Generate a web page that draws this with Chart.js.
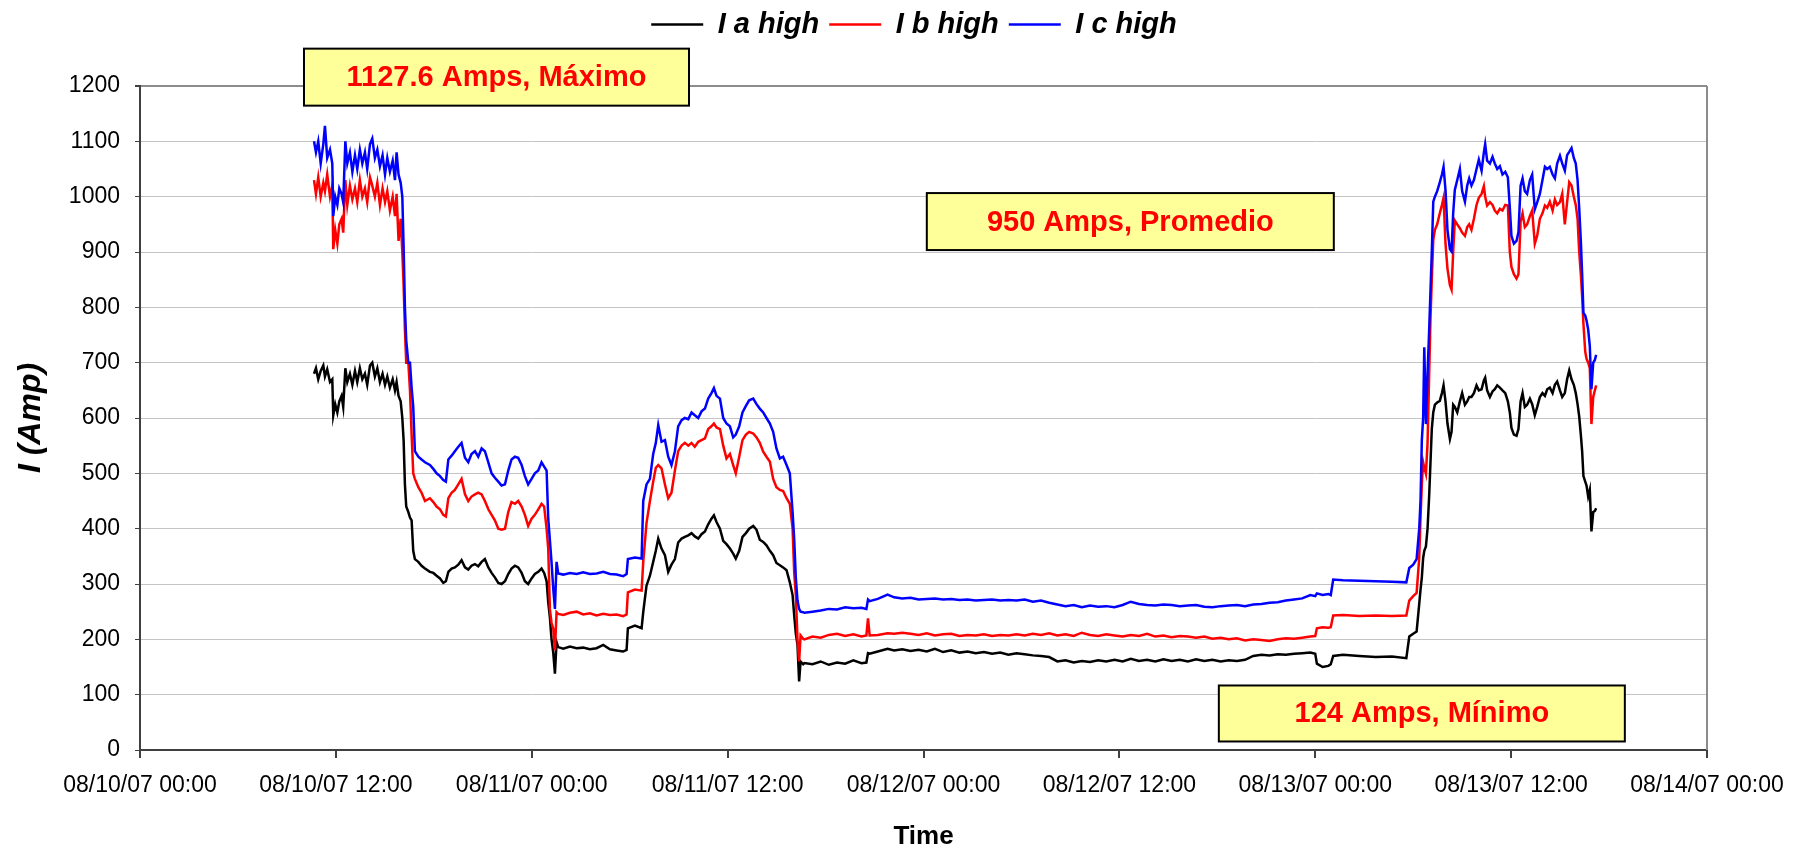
<!DOCTYPE html>
<html>
<head>
<meta charset="utf-8">
<title>I high - 08/10/07 a 08/14/07</title>
<script src="https://cdn.jsdelivr.net/npm/chart.js@4.4.1/dist/chart.umd.min.js"></script>
<style>
  html, body { margin: 0; padding: 0; background: #fff; }
  #wrap { width: 1803px; height: 850px; }
</style>
</head>
<body>
<div id="wrap"><canvas id="chart" width="1803" height="850"></canvas></div>
<script>
// Eje x en horas desde 08/10/07 00:00.

const tickLabels = [
  '08/10/07 00:00', '08/10/07 12:00', '08/11/07 00:00', '08/11/07 12:00', '08/12/07 00:00',
  '08/12/07 12:00', '08/13/07 00:00', '08/13/07 12:00', '08/14/07 00:00'
];

const seriesNames = ['I a high', 'I b high', 'I c high'];

const hours = [
  // primer día, carga alta
  10.66, 10.78, 10.92, 11.07, 11.23, 11.33, 11.47, 11.64, 11.78, 11.84,
  11.96, 12.09, 12.21, 12.35, 12.45, 12.58, 12.70, 12.86, 13.01, 13.17,
  13.31, 13.47, 13.62, 13.78, 13.92, 14.09, 14.23, 14.39, 14.54, 14.70,
  14.86, 15.01, 15.15, 15.31, 15.48, 15.62, 15.72, 15.84, 15.97, 16.07,
  16.15, 16.23, 16.31, 16.44, 16.54, 16.64, 16.74, 16.84,
  // tarde/noche
  17.05, 17.25, 17.46, 17.76, 17.97, 18.17, 18.38, 18.58, 18.74, 18.89,
  19.09, 19.29, 19.50, 19.70, 19.91, 20.11, 20.31, 20.52, 20.72, 20.93,
  21.13, 21.34, 21.54, 21.74, 21.95, 22.15, 22.36, 22.56, 22.76, 22.97,
  23.17, 23.38, 23.58, 23.78, 23.99, 24.19, 24.40, 24.60, 24.76,
  // madrugada 08/11
  24.91, 25.01, 25.11, 25.21, 25.32, 25.42, 25.52, 25.62, 25.93, 26.34,
  26.75, 27.15, 27.56, 27.97, 28.38, 28.79, 29.20, 29.60, 29.81,
  // 08/11 de día
  29.89, 30.32, 30.73, 30.83, 31.03, 31.24, 31.44, 31.60, 31.75, 31.95,
  32.16, 32.36, 32.56, 32.77, 32.97, 33.18, 33.38, 33.59, 33.79, 33.99,
  34.20, 34.40, 34.61, 34.81, 35.01, 35.16, 35.32, 35.53, 35.73, 35.93,
  36.14, 36.34, 36.50, 36.71, 36.91, 37.12, 37.32, 37.57, 37.77, 37.97,
  38.18, 38.38, 38.59, 38.79, 38.99, 39.20, 39.40, 39.61, 39.81, 39.98,
  40.08, 40.18, 40.28, 40.38, 40.47, 40.63,
  // fin de semana, carga baja
  40.7, 41.2, 41.7, 42.2, 42.7, 43.2, 43.7, 44.2, 44.5, 44.6,
  44.7, 45.2, 45.8, 46.2, 46.7, 47.2, 47.7, 48.2, 48.7, 49.2,
  49.7, 50.2, 50.7, 51.2, 51.7, 52.2, 52.7, 53.2, 53.7, 54.2,
  54.7, 55.2, 55.7, 56.2, 56.7, 57.2, 57.7, 58.2, 58.7, 59.2,
  59.7, 60.2, 60.7, 61.2, 61.7, 62.2, 62.7, 63.2, 63.7, 64.2,
  64.7, 65.2, 65.7, 66.2, 66.7, 67.2, 67.7, 68.2, 68.7, 69.2,
  69.7, 70.2, 70.7, 71.2, 71.7, 72.0, 72.1, 72.45, 72.8, 72.95,
  73.1, 73.7, 74.7, 75.7, 76.7, 77.58,
  // 08/13 arranque y carga alta
  77.76, 78.00, 78.21, 78.37, 78.45, 78.53, 78.61, 78.68, 78.78, 78.88,
  78.98, 79.06, 79.14, 79.23, 79.33, 79.47, 79.63, 79.76, 79.86, 79.98,
  80.10, 80.25, 80.35, 80.45, 80.55, 80.70, 80.86, 81.00, 81.17, 81.31,
  81.43, 81.57, 81.72, 81.88, 82.02, 82.19, 82.33, 82.41, 82.53, 82.70,
  82.86, 83.00, 83.15, 83.31, 83.47, 83.64, 83.80, 83.92, 84.02, 84.17,
  84.33, 84.45, 84.58, 84.70, 84.84, 84.98, 85.15, 85.29, 85.45, 85.60,
  85.76, 85.92, 86.07, 86.21, 86.37, 86.54, 86.68, 86.82, 86.99, 87.13,
  87.29, 87.43, 87.56, 87.70, 87.84, 87.96, 88.07, 88.17, 88.27, 88.35,
  88.43, 88.54, 88.62, 88.72, 88.82, 88.92, 89.03, 89.13, 89.21
];

const iaHigh = [
  680, 690, 670, 685, 695, 675, 688, 665, 670, 605,
  625, 610, 630, 640, 620, 690, 665, 680, 660, 685,
  665, 690, 670, 680, 660, 695, 700, 675, 690, 665,
  680, 660, 675, 655, 670, 650, 665, 640, 630, 600,
  560, 480, 440, 430, 420, 415, 360, 345,

  340, 333, 328, 322, 320, 315, 310, 302, 305, 322,
  328, 330, 335, 343, 330, 326, 333, 336, 332, 340,
  345, 330, 320, 312, 302, 300, 305, 318, 328, 333,
  330, 320, 305, 300, 310, 318, 322, 328, 320,

  305, 267, 240, 201, 175, 138, 195, 186, 183, 187,
  184, 185, 182, 184, 190, 182, 180, 178, 181,

  220, 225, 220, 249, 297, 315, 340, 360, 382, 364,
  352, 322, 335, 345, 375, 382, 385, 388, 392, 386,
  382, 390, 395, 408, 418, 424, 412, 400, 378, 372,
  364, 355, 346, 360, 385, 392, 400, 405, 398, 380,
  376, 370, 360, 352, 338, 334, 330, 325, 303, 280,
  243, 210, 190, 124, 160, 155,

  157, 155, 160, 154, 158, 156, 162, 157, 158, 175,
  174, 178, 183, 180, 182, 179, 181, 178, 183, 177,
  180, 176, 178, 175, 177, 174, 176, 172, 175, 173,
  171, 170, 168, 160, 162, 158, 161, 159, 162, 160,
  163, 160, 165, 161, 163, 160, 164, 161, 163, 160,
  164, 161, 163, 160, 162, 161, 163, 170, 172, 171,
  173, 172, 174, 175, 176, 174, 156, 150, 152, 155,
  170, 172, 170, 168, 169, 166,

  205, 210, 214, 264, 290, 312, 347, 360, 368, 400,
  460, 520, 580, 610, 624, 628, 631, 645, 659, 630,
  590, 562, 575, 624, 620, 610, 630, 645, 624, 630,
  638, 638, 645, 659, 650, 652, 668, 673, 650, 638,
  648, 652, 659, 655, 650, 645, 630, 610, 582, 570,
  568, 580, 630, 645, 620, 624, 635, 625, 605, 620,
  638, 645, 640, 652, 655, 645, 660, 666, 650, 638,
  645, 670, 686, 670, 660, 645, 625, 603, 570, 540,
  495, 485, 478, 458, 470, 395, 430, 432, 437
];

const ibHigh = [
  1030, 1005, 1035, 1000, 1025, 1010, 1040, 1000, 1020, 905,
  940, 915, 950, 960, 935, 1030, 985, 1020, 995, 1015,
  990, 1030, 1000, 1015, 990, 1035, 1020, 1000, 1025, 985,
  1015, 990, 1010, 975, 1000, 965, 1005, 920, 960, 900,
  840, 760, 700, 700, 650, 570, 500, 490,

  475, 465, 450, 455, 448, 440, 435, 425, 422, 455,
  465, 470, 480, 490, 462, 450, 458, 462, 465, 462,
  450, 435, 425, 415, 400, 398, 400, 430, 448, 445,
  450, 440, 425, 405, 418, 425, 435, 445, 440,

  400, 364, 255, 230, 219, 180, 249, 246, 244, 248,
  250, 245, 247, 243, 246, 244, 245, 242, 245,

  285, 290, 288, 340, 410, 450, 485, 510, 515, 509,
  480, 455, 465, 505, 540, 550, 555, 550, 555, 548,
  557, 560, 563, 580, 585, 590, 583, 580, 550, 527,
  535, 515, 500, 530, 560, 570, 575, 572, 565, 555,
  539, 530, 521, 490, 475, 470, 468, 455, 445, 400,
  320, 280, 200, 160, 207, 201,

  200, 205, 203, 208, 210, 206, 209, 205, 207, 238,
  207, 208, 211, 210, 212, 210, 208, 211, 207, 209,
  210, 206, 208, 207, 209, 206, 208, 207, 209, 207,
  210, 208, 211, 207, 209, 206, 212, 208, 206, 209,
  207, 205, 208, 206, 210, 205, 207, 204, 206, 205,
  203, 205, 201, 203, 200, 202, 198, 200, 199, 197,
  200, 202, 201, 203, 205, 206, 220, 222, 221, 222,
  243, 244, 242, 243, 242, 243,

  270, 278, 284, 347, 420, 480, 520, 510, 499, 555,
  680, 780, 850, 922, 940, 950, 970, 985, 998, 915,
  870, 840, 832, 900, 957, 950, 943, 935, 929, 945,
  950, 940, 960, 985, 998, 1005, 1019, 1000, 984, 990,
  985, 975, 970, 978, 975, 985, 984, 900, 873, 860,
  852, 860, 955, 970, 945, 950, 965, 975, 915, 930,
  960, 970, 984, 980, 991, 975, 995, 985, 990, 1005,
  950, 990, 1026, 1020, 1000, 985, 960, 901, 860, 820,
  770, 720, 707, 700, 690, 589, 638, 650, 659
];

const icHigh = [
  1100, 1080, 1100, 1060, 1095, 1128, 1070, 1085, 1060, 965,
  1000, 985, 1015, 1005, 990, 1100, 1060, 1080, 1045, 1075,
  1050, 1085, 1060, 1080, 1050, 1095, 1105, 1070, 1085, 1055,
  1075, 1040, 1070, 1045, 1065, 1030, 1080, 1040, 1025, 1000,
  910, 800, 740, 700, 700, 655, 620, 540,

  530, 525, 520, 515, 508, 500, 495, 488, 485, 525,
  532, 540, 548, 555, 528, 520, 535, 540, 530, 545,
  540, 520, 500, 492, 485, 478, 480, 505, 525, 530,
  528, 515, 495, 480, 490, 500, 505, 520, 512,

  505, 418, 380, 340, 290, 255, 340, 319, 317, 320,
  318, 321, 318, 319, 322, 318, 317, 314, 318,

  345, 348, 346, 450, 480, 490, 535, 555, 587, 557,
  560, 530, 515, 540, 585, 596, 600, 598, 610, 605,
  600, 612, 617, 635, 645, 654, 640, 635, 600, 590,
  585, 565, 570, 585, 610, 622, 632, 635, 625, 617,
  610, 600, 590, 575, 545, 527, 530, 515, 500, 430,
  380, 310, 270, 255, 250, 249,

  248, 250, 252, 255, 254, 258, 256, 257, 255, 272,
  269, 273, 281, 276, 274, 275, 272, 273, 274, 272,
  273, 271, 272, 270, 271, 272, 270, 271, 270, 272,
  268, 270, 266, 263, 260, 262, 258, 261, 259, 260,
  258, 262, 268, 264, 262, 261, 263, 262, 260, 261,
  262, 259, 258, 260, 261, 262, 260, 263, 264, 266,
  267, 270, 272, 274, 280, 278, 283, 280, 282, 280,
  308, 307, 306, 305, 304, 303,

  329, 335, 345, 400, 451, 560, 600, 728, 589, 680,
  760, 830, 900, 991, 1000, 1010, 1026, 1040, 1054, 1012,
  940, 905, 901, 970, 1012, 1030, 1050, 1010, 991, 1020,
  1033, 1020, 1030, 1050, 1067, 1047, 1080, 1095, 1065, 1060,
  1072, 1060, 1050, 1055, 1040, 1045, 1035, 980, 929, 915,
  920, 936, 1020, 1033, 1010, 1005, 1030, 1040, 977, 990,
  1005, 1030, 1054, 1050, 1054, 1040, 1033, 1060, 1074, 1060,
  1047, 1075, 1081, 1088, 1070, 1060, 1030, 980, 920, 860,
  790, 785, 776, 760, 730, 652, 700, 705, 714
];

// cuadros de texto: posición del centro en horas / amperios
const noteTexts = ['1127.6 Amps, Máximo', '950 Amps, Promedio', '124 Amps, Mínimo'];
const noteHours = [21.84, 60.67, 78.53];
const noteAmps = [1216, 955, 66];

[iaHigh, ibHigh, icHigh].forEach((s, i) => {
  if (s.length !== hours.length) console.warn('[chart] length mismatch', seriesNames[i], s.length, hours.length);
});

const FONT = '"Liberation Sans", Arial, Helvetica, sans-serif';
const AXIS_DARK = '#404040';
const GRID = '#c4c4c4';
const FRAME = '#8c8c8c';

Chart.defaults.font.family = FONT;
Chart.defaults.color = '#000';

const toPoints = vals => hours.map((h, i) => ({ x: h, y: vals[i] }));

// legend row sits in a fixed 86px band above the plot
const legendBand = {
  id: 'legendBand',
  afterInit(chart) {
    const lg = chart.legend;
    if (!lg) return;
    const fit = lg.fit;
    lg.fit = function () { fit.call(this); this.height = 86; };
  },
  afterLayout(chart) {
    const lg = chart.legend;
    if (!lg) return;
    const shift = 914 - (lg.left + lg.right) / 2;
    lg.left += shift;
    lg.right += shift;
  }
};

// grey frame on the right side of the plot area
const plotFrame = {
  id: 'plotFrame',
  beforeDatasetsDraw(chart) {
    const { ctx, chartArea: a } = chart;
    ctx.save();
    ctx.strokeStyle = FRAME;
    ctx.lineWidth = 2;
    ctx.beginPath();
    ctx.moveTo(a.right, a.top);
    ctx.lineTo(a.right, a.bottom);
    ctx.stroke();
    ctx.restore();
  }
};

const NOTE_BOX = [{ w: 385, h: 57 }, { w: 407, h: 57 }, { w: 406, h: 56 }];

const notes = {
  id: 'notes',
  afterDatasetsDraw(chart) {
    const { ctx } = chart;
    const xs = chart.scales.x, ys = chart.scales.y;
    ctx.save();
    noteTexts.forEach((txt, i) => {
      const cx = xs.getPixelForValue(noteHours[i]);
      const cy = ys.getPixelForValue(noteAmps[i]);
      const { w, h } = NOTE_BOX[i];
      ctx.fillStyle = '#ffff99';
      ctx.fillRect(cx - w / 2, cy - h / 2, w, h);
      ctx.strokeStyle = '#000';
      ctx.lineWidth = 2;
      ctx.strokeRect(cx - w / 2, cy - h / 2, w, h);
      ctx.fillStyle = '#ff0000';
      ctx.font = 'bold 29px ' + FONT;
      ctx.textAlign = 'center';
      ctx.textBaseline = 'middle';
      ctx.fillText(txt, cx, cy + 1);
    });
    ctx.restore();
  }
};

const colors = ['#000000', '#ff0000', '#0000ff'];
const seriesVals = [iaHigh, ibHigh, icHigh];

new Chart(document.getElementById('chart').getContext('2d'), {
  type: 'line',
  data: {
    datasets: seriesNames.map((name, i) => ({
      label: name,
      data: toPoints(seriesVals[i]),
      borderColor: colors[i],
      backgroundColor: colors[i],
      borderWidth: 2.5,
      pointRadius: 0,
      tension: 0,
      order: 3 - i   // blue on top, like the original
    }))
  },
  options: {
    responsive: false,
    animation: false,
    devicePixelRatio: 1,
    layout: { padding: { left: 0, right: 96, top: 0, bottom: 0 } },
    plugins: {
      tooltip: { enabled: false },
      legend: {
        position: 'top',
        labels: {
          usePointStyle: true,
          pointStyle: 'line',
          pointStyleWidth: 52,
          padding: 10,
          color: '#000',
          font: { family: FONT, size: 29, weight: 'bold', style: 'italic' },
          sort: (a, b) => a.datasetIndex - b.datasetIndex
        }
      }
    },
    scales: {
      x: {
        type: 'linear',
        min: 0,
        max: 96,
        afterFit: s => { s.height = 100; },
        ticks: {
          stepSize: 12,
          autoSkip: false,
          maxRotation: 0,
          padding: 14,
          color: '#000',
          font: { family: FONT, size: 23 },
          callback: v => tickLabels[Math.round(v / 12)]
        },
        grid: { drawOnChartArea: false, drawTicks: true, tickLength: 8, tickColor: AXIS_DARK, lineWidth: 2 },
        border: { color: AXIS_DARK, width: 2 },
        title: {
          display: true,
          text: 'Time',
          color: '#000',
          font: { family: FONT, size: 26, weight: 'bold', lineHeight: 1 },
          padding: { top: 0, bottom: 0 }
        }
      },
      y: {
        min: 0,
        max: 1200,
        afterFit: s => { s.width = 140; },
        ticks: {
          stepSize: 100,
          padding: 15,
          color: '#000',
          font: { family: FONT, size: 23 },
          callback: v => String(v)
        },
        grid: {
          color: c => (c.tick && c.tick.value === 1200 ? FRAME : GRID),
          lineWidth: c => (c.tick && c.tick.value === 1200 ? 2 : 1),
          tickLength: 5,
          tickColor: AXIS_DARK
        },
        border: { color: AXIS_DARK, width: 2 },
        title: {
          display: true,
          text: 'I (Amp)',
          color: '#000',
          font: { family: FONT, size: 32, weight: 'bold', style: 'italic' },
          padding: { top: 12, bottom: 0 }
        }
      }
    }
  },
  plugins: [legendBand, plotFrame, notes]
});
</script>
</body>
</html>
